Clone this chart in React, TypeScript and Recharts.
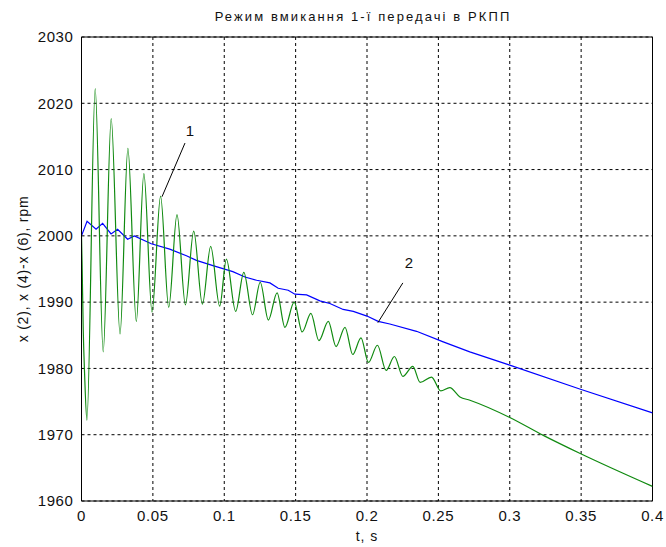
import { CartesianGrid, Label, Line, LineChart, ReferenceDot, ReferenceLine, XAxis, YAxis } from "recharts";

const greenT = [
  0, 0.0004, 0.0012, 0.0022, 0.0038, 0.0096, 0.0152, 0.0208, 0.027, 0.0325, 0.0384, 0.0437, 0.0494, 0.0554,
  0.0611, 0.0669, 0.0728, 0.0786, 0.0847, 0.0905, 0.0968, 0.1015, 0.108, 0.1137, 0.1198, 0.1252, 0.1309, 0.137,
  0.1425, 0.149, 0.1546, 0.1607, 0.1663, 0.1729, 0.1783, 0.1846, 0.19, 0.1958, 0.201, 0.2073, 0.2134, 0.2192,
  0.2251, 0.2321, 0.2372, 0.2452, 0.2517, 0.258, 0.2651, 0.2721, 0.3, 0.3235, 0.349, 0.4,
];
const greenV = [
  2000, 1996, 1986, 1979, 1972.2, 2022.2, 1982.5, 2017.7, 1985.2, 2013.2, 1987.1, 2009.4, 1988.5, 2006.0,
  1989.2, 2003.2, 1989.6, 2000.7, 1989.7, 1998.4, 1989.4, 1996.5, 1988.6, 1994.5, 1988.1, 1993.0, 1987.3, 1991.4,
  1986.2, 1990.0, 1985.5, 1988.3, 1984.2, 1987.1, 1983.3, 1986.2, 1982.1, 1984.6, 1980.9, 1983.5, 1979.7, 1981.8,
  1978.8, 1980.3, 1977.9, 1978.7, 1976.6, 1977.1, 1975.7, 1975.2, 1972.6, 1969.9, 1967.2, 1962.2,
];

const blueT = [
  0, 0.0039, 0.0102, 0.0148, 0.0207, 0.0253, 0.0323, 0.037, 0.0489, 0.0618, 0.0735, 0.0805, 0.0921, 0.106,
  0.1145, 0.1227, 0.132, 0.1378, 0.1448, 0.1495, 0.1577, 0.167, 0.174, 0.1833, 0.1904, 0.2, 0.2078, 0.216,
  0.2347, 0.2534, 0.272, 0.3, 0.349, 0.4,
];
const blueV = [
  2000, 2002.2, 2001.0, 2001.9, 2000.3, 2001.0, 1999.5, 2000.0, 1998.8, 1998.0, 1997.0, 1996.3, 1995.5, 1994.6,
  1993.8, 1993.3, 1992.9, 1992.1, 1991.8, 1991.2, 1991.1, 1990.2, 1989.8, 1988.9, 1988.6, 1987.9, 1987.1, 1986.7,
  1985.6, 1984.0, 1982.5, 1980.5, 1976.9, 1973.3,
];

const xTicks = [0, 0.05, 0.1, 0.15, 0.2, 0.25, 0.3, 0.35, 0.4];
const yTicks = [1960, 1970, 1980, 1990, 2000, 2010, 2020, 2030];

const green = greenT.map((t, i) => ({ t, v: greenV[i] }));
const blue = blueT.map((t, i) => ({ t, v: blueV[i] }));

const font = "'Liberation Sans', Arial, sans-serif";
const tickStyle = { fontSize: 15, fill: "#111", fontFamily: font, letterSpacing: 0.6 };

export default function App() {
  return (
    <div style={{ position: "absolute", left: 0, top: 0, width: 666, height: 547, background: "#fff" }}>
      <div
        style={{
          position: "absolute",
          left: 0,
          width: 726,
          top: 9,
          textAlign: "center",
          fontFamily: font,
          fontSize: 13,
          letterSpacing: 2.1,
          color: "#111",
        }}
      >
        Режим вмикання 1-ї передачі в РКПП
      </div>
      <LineChart width={666} height={547} data={green} margin={{ top: 37, right: 13.5, left: 21.5, bottom: 16 }}>
        <CartesianGrid stroke="#000" strokeDasharray="3 3" horizontalValues={yTicks} verticalValues={xTicks} />
        <XAxis
          dataKey="t"
          type="number"
          domain={[0, 0.4]}
          ticks={xTicks}
          tickFormatter={(v: number) => String(v)}
          tick={tickStyle}
          tickLine={false}
          tickMargin={3}
          stroke="#000"
          height={30}
          allowDataOverflow
        >
          <Label value="t, s" position="bottom" offset={0} style={{ fontSize: 14, fill: "#111", fontFamily: font, letterSpacing: 1 }} />
        </XAxis>
        <YAxis
          type="number"
          domain={[1960, 2030]}
          ticks={yTicks}
          tick={tickStyle}
          tickLine={false}
          stroke="#000"
          width={60}
          allowDataOverflow
        >
          <Label
            value="x (2), x (4)-x (6),  rpm"
            angle={-90}
            position="insideLeft"
            offset={1.5}
            style={{ textAnchor: "middle", fontSize: 14, fill: "#111", fontFamily: font, letterSpacing: 0.8 }}
          />
        </YAxis>
        <ReferenceLine y={2030} stroke="#000" strokeWidth={1} />
        <ReferenceLine x={0.4} stroke="#000" strokeWidth={1} />
        <Line data={blue} dataKey="v" type="linear" stroke="#0000ff" strokeWidth={1.2} dot={false} isAnimationActive={false} />
        <Line data={green} dataKey="v" type="monotone" stroke="#108a10" strokeWidth={1.2} dot={false} isAnimationActive={false} />
        <ReferenceLine segment={[{ x: 0.0725, y: 2014.0 }, { x: 0.0564, y: 2005.9 }]} stroke="#000" strokeWidth={1} />
        <ReferenceLine segment={[{ x: 0.2251, y: 1992.9 }, { x: 0.2076, y: 1986.9 }]} stroke="#000" strokeWidth={1} />
        <ReferenceDot x={0.076} y={2015.8} r={0} fill="none" stroke="none">
          <Label value="1" position="center" style={{ fontSize: 15, fill: "#111", fontFamily: font }} />
        </ReferenceDot>
        <ReferenceDot x={0.2294} y={1995.9} r={0} fill="none" stroke="none">
          <Label value="2" position="center" style={{ fontSize: 15, fill: "#111", fontFamily: font }} />
        </ReferenceDot>
      </LineChart>
    </div>
  );
}
